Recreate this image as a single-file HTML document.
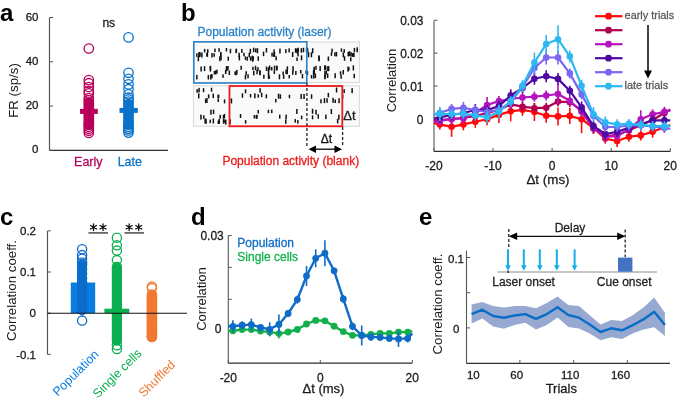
<!DOCTYPE html>
<html><head><meta charset="utf-8"><style>
html,body{margin:0;padding:0;background:#fff;}
body{width:685px;height:402px;overflow:hidden;}
svg{display:block;will-change:transform;font-family:"Liberation Sans",sans-serif;}
</style></head><body>
<svg width="685" height="402" viewBox="0 0 685 402" font-family="Liberation Sans, sans-serif">
<rect width="685" height="402" fill="#fff"/>
<text x="0" y="21" font-size="24" fill="#000"  text-anchor="start" font-weight="bold" >a</text>
<text x="181" y="21" font-size="24" fill="#000"  text-anchor="start" font-weight="bold" >b</text>
<text x="0" y="225" font-size="24" fill="#000"  text-anchor="start" font-weight="bold" >c</text>
<text x="191" y="225" font-size="24" fill="#000"  text-anchor="start" font-weight="bold" >d</text>
<text x="419" y="225" font-size="24" fill="#000"  text-anchor="start" font-weight="bold" >e</text>
<line x1="49.5" y1="17.5" x2="49.5" y2="150.3" stroke="#555555" stroke-width="1.2" />
<line x1="49.5" y1="150.3" x2="168" y2="150.3" stroke="#2e2e2e" stroke-width="1.2" />
<line x1="49.5" y1="150.3" x2="53.0" y2="150.3" stroke="#555555" stroke-width="1" />
<text x="38.5" y="153.3" font-size="11.5" fill="#1a1a1a" stroke="#1a1a1a" stroke-width="0.28" text-anchor="end" font-weight="normal" >0</text>
<line x1="49.5" y1="106.04" x2="53.0" y2="106.04" stroke="#555555" stroke-width="1" />
<text x="38.5" y="109.04" font-size="11.5" fill="#1a1a1a" stroke="#1a1a1a" stroke-width="0.28" text-anchor="end" font-weight="normal" >20</text>
<line x1="49.5" y1="61.78" x2="53.0" y2="61.78" stroke="#555555" stroke-width="1" />
<text x="38.5" y="64.78" font-size="11.5" fill="#1a1a1a" stroke="#1a1a1a" stroke-width="0.28" text-anchor="end" font-weight="normal" >40</text>
<line x1="49.5" y1="17.52000000000001" x2="53.0" y2="17.52000000000001" stroke="#555555" stroke-width="1" />
<text x="38.5" y="20.52000000000001" font-size="11.5" fill="#1a1a1a" stroke="#1a1a1a" stroke-width="0.28" text-anchor="end" font-weight="normal" >60</text>
<text transform="translate(17.8,90.5) rotate(-90)" font-size="13.3" fill="#1a1a1a" text-anchor="middle">FR (sp/s)</text>
<text x="102.4" y="27.3" font-size="12" fill="#1a1a1a" stroke="#1a1a1a" stroke-width="0.28" text-anchor="start" font-weight="normal" >ns</text>
<circle cx="88.8" cy="48.5" r="4.7" fill="none" stroke="#b8005a" stroke-width="1.3"/>
<circle cx="88.8" cy="80.1" r="4.7" fill="none" stroke="#b8005a" stroke-width="1.3"/>
<circle cx="88.8" cy="83.2" r="4.7" fill="none" stroke="#b8005a" stroke-width="1.3"/>
<circle cx="88.8" cy="87.0" r="4.7" fill="none" stroke="#b8005a" stroke-width="1.3"/>
<circle cx="88.8" cy="91.0" r="4.7" fill="none" stroke="#b8005a" stroke-width="1.3"/>
<circle cx="88.8" cy="93.4" r="4.7" fill="none" stroke="#b8005a" stroke-width="1.3"/>
<circle cx="88.8" cy="98.1" r="4.7" fill="none" stroke="#b8005a" stroke-width="1.3"/>
<circle cx="88.8" cy="100.3" r="4.7" fill="none" stroke="#b8005a" stroke-width="1.3"/>
<circle cx="88.8" cy="124.6" r="4.7" fill="none" stroke="#b8005a" stroke-width="1.3"/>
<circle cx="88.8" cy="126.8" r="4.7" fill="none" stroke="#b8005a" stroke-width="1.3"/>
<circle cx="88.8" cy="128.8" r="4.7" fill="none" stroke="#b8005a" stroke-width="1.3"/>
<circle cx="88.8" cy="130.8" r="4.7" fill="none" stroke="#b8005a" stroke-width="1.3"/>
<circle cx="88.8" cy="133.0" r="4.7" fill="none" stroke="#b8005a" stroke-width="1.3"/>
<rect x="83.45" y="97.2" width="10.7" height="32.3" rx="5.3" fill="#b8005a"/>
<circle cx="128.5" cy="37.4" r="4.7" fill="none" stroke="#0a72c8" stroke-width="1.3"/>
<circle cx="128.5" cy="72.8" r="4.7" fill="none" stroke="#0a72c8" stroke-width="1.3"/>
<circle cx="128.5" cy="78.8" r="4.7" fill="none" stroke="#0a72c8" stroke-width="1.3"/>
<circle cx="128.5" cy="84.4" r="4.7" fill="none" stroke="#0a72c8" stroke-width="1.3"/>
<circle cx="128.5" cy="89.2" r="4.7" fill="none" stroke="#0a72c8" stroke-width="1.3"/>
<circle cx="128.5" cy="94.3" r="4.7" fill="none" stroke="#0a72c8" stroke-width="1.3"/>
<circle cx="128.5" cy="97.6" r="4.7" fill="none" stroke="#0a72c8" stroke-width="1.3"/>
<circle cx="128.5" cy="99.6" r="4.7" fill="none" stroke="#0a72c8" stroke-width="1.3"/>
<circle cx="128.5" cy="101.6" r="4.7" fill="none" stroke="#0a72c8" stroke-width="1.3"/>
<circle cx="128.5" cy="124.6" r="4.7" fill="none" stroke="#0a72c8" stroke-width="1.3"/>
<circle cx="128.5" cy="126.8" r="4.7" fill="none" stroke="#0a72c8" stroke-width="1.3"/>
<circle cx="128.5" cy="128.6" r="4.7" fill="none" stroke="#0a72c8" stroke-width="1.3"/>
<circle cx="128.5" cy="130.4" r="4.7" fill="none" stroke="#0a72c8" stroke-width="1.3"/>
<circle cx="128.5" cy="132.6" r="4.7" fill="none" stroke="#0a72c8" stroke-width="1.3"/>
<rect x="123.15" y="98.7" width="10.7" height="30.8" rx="5.3" fill="#0a72c8"/>
<rect x="80" y="108.9" width="17.8" height="5" fill="#b8005a"/>
<rect x="119.5" y="107.9" width="18.3" height="5" fill="#0a72c8"/>
<text x="88.3" y="165.7" font-size="12.5" fill="#b8005a" stroke="#b8005a" stroke-width="0.28" text-anchor="middle" font-weight="normal" >Early</text>
<text x="129.8" y="165.7" font-size="12.5" fill="#0a72c8" stroke="#0a72c8" stroke-width="0.28" text-anchor="middle" font-weight="normal" >Late</text>
<text x="197.5" y="35.8" font-size="12" fill="#2a82c8" stroke="#2a82c8" stroke-width="0.28" text-anchor="start" font-weight="normal" >Population activity (laser)</text>
<rect x="193.5" y="42" width="166" height="40.5" fill="#fafafa" stroke="#dcdcdc" stroke-width="1.2"/>
<rect x="193.5" y="85.8" width="166" height="40.5" fill="#fafafa" stroke="#dcdcdc" stroke-width="1.2"/>
<rect x="296.3" y="57.5" width="1.5" height="3.5" fill="#111"/>
<rect x="331.3" y="48.7" width="1.5" height="4" fill="#111"/>
<rect x="214.2" y="48.6" width="1.5" height="3.5" fill="#111"/>
<rect x="288.4" y="48.4" width="1.5" height="4" fill="#111"/>
<rect x="343.5" y="49.2" width="1.5" height="3.5" fill="#111"/>
<rect x="218.3" y="48.2" width="1.5" height="3.5" fill="#111"/>
<rect x="229.7" y="48.8" width="1.5" height="4.5" fill="#111"/>
<rect x="246.5" y="56.7" width="1.5" height="4" fill="#111"/>
<rect x="347.5" y="51.9" width="1.5" height="4.5" fill="#111"/>
<rect x="262.8" y="51.6" width="1.5" height="4.5" fill="#111"/>
<rect x="327.6" y="56.5" width="1.5" height="4.5" fill="#111"/>
<rect x="206.6" y="52.2" width="1.5" height="4.5" fill="#111"/>
<rect x="225.7" y="48.0" width="1.5" height="3.5" fill="#111"/>
<rect x="348.8" y="51.2" width="1.5" height="5" fill="#111"/>
<rect x="255.0" y="48.4" width="1.5" height="4" fill="#111"/>
<rect x="296.4" y="48.4" width="1.5" height="5" fill="#111"/>
<rect x="251.4" y="55.6" width="1.5" height="5" fill="#111"/>
<rect x="213.4" y="53.3" width="1.5" height="3.5" fill="#111"/>
<rect x="265.7" y="48.0" width="1.5" height="4.5" fill="#111"/>
<rect x="343.8" y="56.3" width="1.5" height="4.5" fill="#111"/>
<rect x="306.4" y="48.5" width="1.5" height="4.5" fill="#111"/>
<rect x="356.5" y="47.3" width="1.5" height="5" fill="#111"/>
<rect x="201.1" y="52.5" width="1.5" height="5" fill="#111"/>
<rect x="300.8" y="55.3" width="1.5" height="5" fill="#111"/>
<rect x="249.8" y="56.6" width="1.5" height="4" fill="#111"/>
<rect x="297.5" y="47.7" width="1.5" height="4.5" fill="#111"/>
<rect x="220.0" y="51.9" width="1.5" height="4" fill="#111"/>
<rect x="353.1" y="52.6" width="1.5" height="4.5" fill="#111"/>
<rect x="273.1" y="53.4" width="1.5" height="3.5" fill="#111"/>
<rect x="256.7" y="48.2" width="1.5" height="5" fill="#111"/>
<rect x="335.7" y="51.9" width="1.5" height="4.5" fill="#111"/>
<rect x="206.2" y="53.1" width="1.5" height="3.5" fill="#111"/>
<rect x="318.3" y="56.3" width="1.5" height="5" fill="#111"/>
<rect x="238.6" y="55.9" width="1.5" height="4.5" fill="#111"/>
<rect x="300.6" y="48.2" width="1.5" height="4.5" fill="#111"/>
<rect x="248.5" y="52.8" width="1.5" height="4.5" fill="#111"/>
<rect x="252.0" y="56.7" width="1.5" height="5" fill="#111"/>
<rect x="252.4" y="56.2" width="1.5" height="4.5" fill="#111"/>
<rect x="350.0" y="57.3" width="1.5" height="4" fill="#111"/>
<rect x="330.7" y="52.4" width="1.5" height="3.5" fill="#111"/>
<rect x="311.9" y="48.2" width="1.5" height="5" fill="#111"/>
<rect x="244.7" y="56.4" width="1.5" height="3.5" fill="#111"/>
<rect x="227.5" y="56.7" width="1.5" height="4" fill="#111"/>
<rect x="318.2" y="55.3" width="1.5" height="5" fill="#111"/>
<rect x="353.7" y="47.9" width="1.5" height="4" fill="#111"/>
<rect x="273.7" y="51.9" width="1.5" height="5" fill="#111"/>
<rect x="302.7" y="47.8" width="1.5" height="4.5" fill="#111"/>
<rect x="196.1" y="53.3" width="1.5" height="3.5" fill="#111"/>
<rect x="306.9" y="48.3" width="1.5" height="4.5" fill="#111"/>
<rect x="211.3" y="53.0" width="1.5" height="4.5" fill="#111"/>
<rect x="350.3" y="52.1" width="1.5" height="4.5" fill="#111"/>
<rect x="271.3" y="52.6" width="1.5" height="4" fill="#111"/>
<rect x="351.8" y="53.3" width="1.5" height="3.5" fill="#111"/>
<rect x="257.5" y="56.3" width="1.5" height="4.5" fill="#111"/>
<rect x="297.3" y="52.4" width="1.5" height="4" fill="#111"/>
<rect x="275.4" y="56.3" width="1.5" height="4" fill="#111"/>
<rect x="291.9" y="52.0" width="1.5" height="5" fill="#111"/>
<rect x="199.2" y="52.2" width="1.5" height="4.5" fill="#111"/>
<rect x="219.1" y="56.2" width="1.5" height="5" fill="#111"/>
<rect x="235.5" y="49.3" width="1.5" height="3.5" fill="#111"/>
<rect x="273.3" y="49.4" width="1.5" height="3.5" fill="#111"/>
<rect x="235.6" y="48.6" width="1.5" height="4.5" fill="#111"/>
<rect x="243.2" y="52.8" width="1.5" height="3.5" fill="#111"/>
<rect x="198.6" y="52.3" width="1.5" height="4.5" fill="#111"/>
<rect x="294.8" y="48.2" width="1.5" height="4.5" fill="#111"/>
<rect x="305.8" y="47.5" width="1.5" height="4.5" fill="#111"/>
<rect x="285.1" y="49.1" width="1.5" height="4" fill="#111"/>
<rect x="198.3" y="52.2" width="1.5" height="5" fill="#111"/>
<rect x="334.2" y="52.3" width="1.5" height="4" fill="#111"/>
<rect x="340.7" y="48.4" width="1.5" height="3.5" fill="#111"/>
<rect x="307.8" y="52.2" width="1.5" height="5" fill="#111"/>
<rect x="342.6" y="52.3" width="1.5" height="5" fill="#111"/>
<rect x="352.6" y="52.9" width="1.5" height="3.5" fill="#111"/>
<rect x="207.0" y="49.2" width="1.5" height="3.5" fill="#111"/>
<rect x="249.6" y="48.8" width="1.5" height="5" fill="#111"/>
<rect x="203.9" y="48.9" width="1.5" height="3.5" fill="#111"/>
<rect x="310.7" y="52.3" width="1.5" height="5" fill="#111"/>
<rect x="220.1" y="53.2" width="1.5" height="3.5" fill="#111"/>
<rect x="296.2" y="49.0" width="1.5" height="3.5" fill="#111"/>
<rect x="241.1" y="48.9" width="1.5" height="4" fill="#111"/>
<rect x="197.6" y="56.2" width="1.5" height="5" fill="#111"/>
<rect x="252.9" y="47.7" width="1.5" height="4.5" fill="#111"/>
<rect x="220.3" y="56.2" width="1.5" height="4" fill="#111"/>
<rect x="238.4" y="52.8" width="1.5" height="4.5" fill="#111"/>
<rect x="279.2" y="48.6" width="1.5" height="5" fill="#111"/>
<rect x="314.6" y="73.5" width="1.5" height="4.5" fill="#111"/>
<rect x="209.7" y="66.6" width="1.5" height="5" fill="#111"/>
<rect x="234.4" y="71.5" width="1.5" height="3.5" fill="#111"/>
<rect x="324.2" y="74.3" width="1.5" height="4" fill="#111"/>
<rect x="348.1" y="67.1" width="1.5" height="3.5" fill="#111"/>
<rect x="352.6" y="65.4" width="1.5" height="5" fill="#111"/>
<rect x="253.0" y="70.9" width="1.5" height="4.5" fill="#111"/>
<rect x="324.2" y="74.8" width="1.5" height="4.5" fill="#111"/>
<rect x="325.5" y="70.5" width="1.5" height="4" fill="#111"/>
<rect x="315.2" y="65.8" width="1.5" height="4" fill="#111"/>
<rect x="228.6" y="70.5" width="1.5" height="4.5" fill="#111"/>
<rect x="196.1" y="74.9" width="1.5" height="4.5" fill="#111"/>
<rect x="271.0" y="67.0" width="1.5" height="3.5" fill="#111"/>
<rect x="256.3" y="69.7" width="1.5" height="4.5" fill="#111"/>
<rect x="213.7" y="71.0" width="1.5" height="3.5" fill="#111"/>
<rect x="273.6" y="70.5" width="1.5" height="3.5" fill="#111"/>
<rect x="306.7" y="71.1" width="1.5" height="4" fill="#111"/>
<rect x="215.0" y="70.4" width="1.5" height="4" fill="#111"/>
<rect x="313.4" y="66.8" width="1.5" height="4" fill="#111"/>
<rect x="301.7" y="74.0" width="1.5" height="4.5" fill="#111"/>
<rect x="225.7" y="66.4" width="1.5" height="5" fill="#111"/>
<rect x="222.3" y="74.3" width="1.5" height="3.5" fill="#111"/>
<rect x="300.0" y="70.0" width="1.5" height="3.5" fill="#111"/>
<rect x="268.9" y="65.5" width="1.5" height="4.5" fill="#111"/>
<rect x="347.3" y="66.6" width="1.5" height="5" fill="#111"/>
<rect x="210.8" y="74.3" width="1.5" height="3.5" fill="#111"/>
<rect x="276.1" y="65.6" width="1.5" height="5" fill="#111"/>
<rect x="267.8" y="67.2" width="1.5" height="4" fill="#111"/>
<rect x="224.9" y="70.0" width="1.5" height="4" fill="#111"/>
<rect x="209.6" y="65.8" width="1.5" height="4" fill="#111"/>
<rect x="292.3" y="66.2" width="1.5" height="5" fill="#111"/>
<rect x="282.9" y="74.9" width="1.5" height="4" fill="#111"/>
<rect x="312.8" y="70.8" width="1.5" height="4" fill="#111"/>
<rect x="285.3" y="69.6" width="1.5" height="4.5" fill="#111"/>
<rect x="327.9" y="66.1" width="1.5" height="5" fill="#111"/>
<rect x="235.4" y="71.2" width="1.5" height="4" fill="#111"/>
<rect x="240.4" y="65.8" width="1.5" height="4" fill="#111"/>
<rect x="324.2" y="65.6" width="1.5" height="4.5" fill="#111"/>
<rect x="257.2" y="67.1" width="1.5" height="4" fill="#111"/>
<rect x="288.5" y="75.0" width="1.5" height="3.5" fill="#111"/>
<rect x="313.2" y="69.4" width="1.5" height="5" fill="#111"/>
<rect x="286.5" y="69.7" width="1.5" height="4.5" fill="#111"/>
<rect x="276.1" y="66.1" width="1.5" height="3.5" fill="#111"/>
<rect x="200.4" y="66.5" width="1.5" height="5" fill="#111"/>
<rect x="334.4" y="73.2" width="1.5" height="5" fill="#111"/>
<rect x="216.2" y="69.7" width="1.5" height="4" fill="#111"/>
<rect x="313.0" y="74.7" width="1.5" height="4" fill="#111"/>
<rect x="267.8" y="69.6" width="1.5" height="4.5" fill="#111"/>
<rect x="267.8" y="73.9" width="1.5" height="5" fill="#111"/>
<rect x="203.8" y="66.1" width="1.5" height="5" fill="#111"/>
<rect x="292.0" y="70.8" width="1.5" height="4" fill="#111"/>
<rect x="353.5" y="73.8" width="1.5" height="4.5" fill="#111"/>
<rect x="259.2" y="70.8" width="1.5" height="4.5" fill="#111"/>
<rect x="286.6" y="66.3" width="1.5" height="4" fill="#111"/>
<rect x="327.1" y="66.2" width="1.5" height="5" fill="#111"/>
<rect x="252.2" y="66.7" width="1.5" height="3.5" fill="#111"/>
<rect x="211.1" y="74.2" width="1.5" height="4" fill="#111"/>
<rect x="324.2" y="71.0" width="1.5" height="3.5" fill="#111"/>
<rect x="324.9" y="65.9" width="1.5" height="4" fill="#111"/>
<rect x="326.9" y="73.5" width="1.5" height="4.5" fill="#111"/>
<rect x="278.7" y="74.3" width="1.5" height="5" fill="#111"/>
<rect x="268.4" y="75.4" width="1.5" height="3.5" fill="#111"/>
<rect x="282.4" y="71.5" width="1.5" height="3.5" fill="#111"/>
<rect x="305.4" y="70.4" width="1.5" height="3.5" fill="#111"/>
<rect x="210.1" y="74.6" width="1.5" height="5" fill="#111"/>
<rect x="245.4" y="71.2" width="1.5" height="4" fill="#111"/>
<rect x="207.6" y="75.0" width="1.5" height="4.5" fill="#111"/>
<rect x="340.4" y="74.7" width="1.5" height="4" fill="#111"/>
<rect x="273.8" y="65.6" width="1.5" height="5" fill="#111"/>
<rect x="259.3" y="70.3" width="1.5" height="4" fill="#111"/>
<rect x="342.5" y="70.0" width="1.5" height="4.5" fill="#111"/>
<rect x="236.1" y="69.9" width="1.5" height="4.5" fill="#111"/>
<rect x="324.3" y="65.3" width="1.5" height="5" fill="#111"/>
<rect x="319.4" y="66.1" width="1.5" height="5" fill="#111"/>
<rect x="263.1" y="74.7" width="1.5" height="4" fill="#111"/>
<rect x="244.7" y="74.9" width="1.5" height="4.5" fill="#111"/>
<rect x="226.1" y="66.2" width="1.5" height="4" fill="#111"/>
<rect x="265.8" y="66.5" width="1.5" height="4.5" fill="#111"/>
<rect x="313.4" y="70.2" width="1.5" height="3.5" fill="#111"/>
<rect x="247.3" y="74.3" width="1.5" height="4" fill="#111"/>
<rect x="339.8" y="71.3" width="1.5" height="3.5" fill="#111"/>
<rect x="227.2" y="66.0" width="1.5" height="4.5" fill="#111"/>
<rect x="295.1" y="70.9" width="1.5" height="4" fill="#111"/>
<rect x="310.8" y="75.0" width="1.5" height="3.5" fill="#111"/>
<rect x="254.8" y="65.8" width="1.5" height="4.5" fill="#111"/>
<rect x="223.8" y="99.4" width="1.5" height="4" fill="#111"/>
<rect x="260.9" y="92.7" width="1.5" height="4.5" fill="#111"/>
<rect x="217.4" y="94.7" width="1.5" height="3.5" fill="#111"/>
<rect x="275.0" y="98.9" width="1.5" height="3.5" fill="#111"/>
<rect x="326.3" y="98.3" width="1.5" height="4.5" fill="#111"/>
<rect x="257.5" y="94.2" width="1.5" height="3.5" fill="#111"/>
<rect x="288.7" y="94.7" width="1.5" height="3.5" fill="#111"/>
<rect x="279.6" y="94.3" width="1.5" height="4.5" fill="#111"/>
<rect x="303.3" y="94.0" width="1.5" height="5" fill="#111"/>
<rect x="265.6" y="94.3" width="1.5" height="4" fill="#111"/>
<rect x="210.8" y="87.7" width="1.5" height="4" fill="#111"/>
<rect x="254.1" y="93.3" width="1.5" height="5" fill="#111"/>
<rect x="335.8" y="87.5" width="1.5" height="5" fill="#111"/>
<rect x="198.0" y="93.4" width="1.5" height="5" fill="#111"/>
<rect x="277.8" y="93.7" width="1.5" height="5" fill="#111"/>
<rect x="334.5" y="99.5" width="1.5" height="3.5" fill="#111"/>
<rect x="230.7" y="98.4" width="1.5" height="5" fill="#111"/>
<rect x="343.4" y="89.1" width="1.5" height="4" fill="#111"/>
<rect x="244.8" y="89.3" width="1.5" height="4" fill="#111"/>
<rect x="259.4" y="88.2" width="1.5" height="4.5" fill="#111"/>
<rect x="196.4" y="89.2" width="1.5" height="3.5" fill="#111"/>
<rect x="207.9" y="94.4" width="1.5" height="4" fill="#111"/>
<rect x="300.4" y="94.0" width="1.5" height="5" fill="#111"/>
<rect x="217.9" y="94.7" width="1.5" height="3.5" fill="#111"/>
<rect x="198.3" y="87.9" width="1.5" height="4.5" fill="#111"/>
<rect x="249.8" y="94.0" width="1.5" height="3.5" fill="#111"/>
<rect x="241.7" y="93.3" width="1.5" height="4.5" fill="#111"/>
<rect x="341.9" y="94.5" width="1.5" height="4" fill="#111"/>
<rect x="351.4" y="88.1" width="1.5" height="5" fill="#111"/>
<rect x="217.5" y="98.5" width="1.5" height="3.5" fill="#111"/>
<rect x="320.2" y="99.3" width="1.5" height="4" fill="#111"/>
<rect x="323.7" y="98.1" width="1.5" height="5" fill="#111"/>
<rect x="338.3" y="98.2" width="1.5" height="5" fill="#111"/>
<rect x="212.5" y="93.6" width="1.5" height="4.5" fill="#111"/>
<rect x="310.8" y="94.3" width="1.5" height="4.5" fill="#111"/>
<rect x="332.3" y="97.8" width="1.5" height="5" fill="#111"/>
<rect x="204.9" y="98.6" width="1.5" height="4.5" fill="#111"/>
<rect x="327.6" y="92.9" width="1.5" height="4.5" fill="#111"/>
<rect x="206.2" y="98.0" width="1.5" height="5" fill="#111"/>
<rect x="202.8" y="88.2" width="1.5" height="4" fill="#111"/>
<rect x="256.2" y="114.7" width="1.5" height="4" fill="#111"/>
<rect x="315.3" y="109.7" width="1.5" height="5" fill="#111"/>
<rect x="222.8" y="118.6" width="1.5" height="5" fill="#111"/>
<rect x="204.4" y="118.4" width="1.5" height="5" fill="#111"/>
<rect x="203.0" y="115.3" width="1.5" height="3.5" fill="#111"/>
<rect x="200.2" y="114.6" width="1.5" height="5" fill="#111"/>
<rect x="294.5" y="119.1" width="1.5" height="3.5" fill="#111"/>
<rect x="311.8" y="108.8" width="1.5" height="5" fill="#111"/>
<rect x="244.9" y="120.1" width="1.5" height="3.5" fill="#111"/>
<rect x="317.5" y="114.2" width="1.5" height="4.5" fill="#111"/>
<rect x="279.0" y="114.6" width="1.5" height="4" fill="#111"/>
<rect x="210.2" y="109.7" width="1.5" height="5" fill="#111"/>
<rect x="296.1" y="109.0" width="1.5" height="5" fill="#111"/>
<rect x="223.3" y="119.5" width="1.5" height="3.5" fill="#111"/>
<rect x="219.4" y="114.8" width="1.5" height="4" fill="#111"/>
<rect x="285.4" y="114.6" width="1.5" height="4.5" fill="#111"/>
<rect x="330.6" y="109.0" width="1.5" height="5" fill="#111"/>
<rect x="253.6" y="115.0" width="1.5" height="3.5" fill="#111"/>
<rect x="212.6" y="118.5" width="1.5" height="5" fill="#111"/>
<rect x="223.7" y="113.9" width="1.5" height="4.5" fill="#111"/>
<rect x="338.1" y="114.6" width="1.5" height="5" fill="#111"/>
<rect x="225.0" y="119.6" width="1.5" height="5" fill="#111"/>
<rect x="212.8" y="109.6" width="1.5" height="4.5" fill="#111"/>
<rect x="300.9" y="115.7" width="1.5" height="3.5" fill="#111"/>
<rect x="271.0" y="109.6" width="1.5" height="3.5" fill="#111"/>
<rect x="209.5" y="119.6" width="1.5" height="3.5" fill="#111"/>
<rect x="239.8" y="114.0" width="1.5" height="4" fill="#111"/>
<rect x="257.5" y="110.0" width="1.5" height="3.5" fill="#111"/>
<rect x="218.5" y="118.9" width="1.5" height="5" fill="#111"/>
<rect x="285.0" y="119.3" width="1.5" height="4.5" fill="#111"/>
<rect x="222.7" y="115.0" width="1.5" height="3.5" fill="#111"/>
<rect x="217.6" y="120.5" width="1.5" height="3.5" fill="#111"/>
<rect x="267.7" y="109.7" width="1.5" height="3.5" fill="#111"/>
<rect x="311.8" y="115.3" width="1.5" height="4" fill="#111"/>
<rect x="325.1" y="114.6" width="1.5" height="4.5" fill="#111"/>
<rect x="297.1" y="120.1" width="1.5" height="3.5" fill="#111"/>
<rect x="229.3" y="119.1" width="1.5" height="5" fill="#111"/>
<rect x="336.9" y="118.9" width="1.5" height="4.5" fill="#111"/>
<rect x="205.3" y="118.9" width="1.5" height="5" fill="#111"/>
<rect x="255.6" y="115.2" width="1.5" height="3.5" fill="#111"/>
<rect x="193.8" y="41.8" width="113" height="41.2" fill="none" stroke="#2a82c8" stroke-width="1.6"/>
<rect x="229.5" y="86" width="112.8" height="40.3" fill="none" stroke="#f01818" stroke-width="1.8"/>
<line x1="306.9" y1="83" x2="306.9" y2="147" stroke="#222" stroke-width="1.3" stroke-dasharray="3,2"/>
<line x1="342.6" y1="127" x2="342.6" y2="147" stroke="#222" stroke-width="1.3" stroke-dasharray="3,2"/>
<text x="343.3" y="119.8" font-size="13" fill="#222" stroke="#222" stroke-width="0.28" text-anchor="start" font-weight="normal" >Δt</text>
<text x="326.5" y="143.2" font-size="12" fill="#111" stroke="#111" stroke-width="0.28" text-anchor="middle" font-weight="normal" >Δt</text>
<line x1="314" y1="149.2" x2="336" y2="149.2" stroke="#000" stroke-width="1.3" />
<path d="M308.5,149.2 L316,145.5 L316,153 Z" fill="#000"/>
<path d="M342,149.2 L334.5,145.5 L334.5,153 Z" fill="#000"/>
<text x="222.4" y="164.8" font-size="12" fill="#f01818" stroke="#f01818" stroke-width="0.28" text-anchor="start" font-weight="normal" >Population activity (blank)</text>
<line x1="434" y1="20.5" x2="434" y2="151.3" stroke="#555555" stroke-width="1.1" />
<line x1="434" y1="151.3" x2="670.4" y2="151.3" stroke="#2e2e2e" stroke-width="1.2" />
<line x1="434" y1="118.9" x2="437.5" y2="118.9" stroke="#555555" stroke-width="1" />
<text x="423.5" y="123.9" font-size="12" fill="#1a1a1a" stroke="#1a1a1a" stroke-width="0.28" text-anchor="end" font-weight="normal" >0</text>
<line x1="434" y1="86.0" x2="437.5" y2="86.0" stroke="#555555" stroke-width="1" />
<text x="423.5" y="91.0" font-size="12" fill="#1a1a1a" stroke="#1a1a1a" stroke-width="0.28" text-anchor="end" font-weight="normal" >0.01</text>
<line x1="434" y1="53.10000000000001" x2="437.5" y2="53.10000000000001" stroke="#555555" stroke-width="1" />
<text x="423.5" y="58.10000000000001" font-size="12" fill="#1a1a1a" stroke="#1a1a1a" stroke-width="0.28" text-anchor="end" font-weight="normal" >0.02</text>
<line x1="434" y1="20.200000000000003" x2="437.5" y2="20.200000000000003" stroke="#555555" stroke-width="1" />
<text x="423.5" y="25.200000000000003" font-size="12" fill="#1a1a1a" stroke="#1a1a1a" stroke-width="0.28" text-anchor="end" font-weight="normal" >0.03</text>
<line x1="433.9" y1="151.3" x2="433.9" y2="148" stroke="#555555" stroke-width="1" />
<text x="433.9" y="169.6" font-size="12" fill="#1a1a1a" stroke="#1a1a1a" stroke-width="0.28" text-anchor="middle" font-weight="normal" >-20</text>
<line x1="493.0" y1="151.3" x2="493.0" y2="148" stroke="#555555" stroke-width="1" />
<text x="493.0" y="169.6" font-size="12" fill="#1a1a1a" stroke="#1a1a1a" stroke-width="0.28" text-anchor="middle" font-weight="normal" >-10</text>
<line x1="552.1" y1="151.3" x2="552.1" y2="148" stroke="#555555" stroke-width="1" />
<text x="552.1" y="169.6" font-size="12" fill="#1a1a1a" stroke="#1a1a1a" stroke-width="0.28" text-anchor="middle" font-weight="normal" >0</text>
<line x1="611.2" y1="151.3" x2="611.2" y2="148" stroke="#555555" stroke-width="1" />
<text x="611.2" y="169.6" font-size="12" fill="#1a1a1a" stroke="#1a1a1a" stroke-width="0.28" text-anchor="middle" font-weight="normal" >10</text>
<line x1="670.3" y1="151.3" x2="670.3" y2="148" stroke="#555555" stroke-width="1" />
<text x="670.3" y="169.6" font-size="12" fill="#1a1a1a" stroke="#1a1a1a" stroke-width="0.28" text-anchor="middle" font-weight="normal" >20</text>
<text x="548" y="183.6" font-size="13.4" fill="#1a1a1a" stroke="#1a1a1a" stroke-width="0.28" text-anchor="middle" font-weight="normal" >Δt (ms)</text>
<text transform="translate(396.2,80.5) rotate(-90)" font-size="13" fill="#1a1a1a" text-anchor="middle">Correlation</text>
<line x1="439.8" y1="119.4" x2="439.8" y2="129.4" stroke="#ff0a0a" stroke-width="1.6" />
<line x1="451.6" y1="116.8" x2="451.6" y2="136.8" stroke="#ff0a0a" stroke-width="1.6" />
<line x1="463.4" y1="118.4" x2="463.4" y2="130.4" stroke="#ff0a0a" stroke-width="1.6" />
<line x1="475.3" y1="115.8" x2="475.3" y2="127.8" stroke="#ff0a0a" stroke-width="1.6" />
<line x1="487.1" y1="113.2" x2="487.1" y2="125.2" stroke="#ff0a0a" stroke-width="1.6" />
<line x1="498.9" y1="106.9" x2="498.9" y2="122.9" stroke="#ff0a0a" stroke-width="1.6" />
<line x1="510.7" y1="101.3" x2="510.7" y2="121.3" stroke="#ff0a0a" stroke-width="1.6" />
<line x1="522.5" y1="103.8" x2="522.5" y2="115.8" stroke="#ff0a0a" stroke-width="1.6" />
<line x1="534.4" y1="103.0" x2="534.4" y2="121.0" stroke="#ff0a0a" stroke-width="1.6" />
<line x1="546.2" y1="108.7" x2="546.2" y2="122.7" stroke="#ff0a0a" stroke-width="1.6" />
<line x1="558.0" y1="107.4" x2="558.0" y2="125.4" stroke="#ff0a0a" stroke-width="1.6" />
<line x1="569.8" y1="107.9" x2="569.8" y2="123.9" stroke="#ff0a0a" stroke-width="1.6" />
<line x1="581.6" y1="105.2" x2="581.6" y2="133.2" stroke="#ff0a0a" stroke-width="1.6" />
<line x1="593.5" y1="122.0" x2="593.5" y2="134.0" stroke="#ff0a0a" stroke-width="1.6" />
<line x1="605.3" y1="133.6" x2="605.3" y2="143.6" stroke="#ff0a0a" stroke-width="1.6" />
<line x1="617.1" y1="135.0" x2="617.1" y2="147.0" stroke="#ff0a0a" stroke-width="1.6" />
<line x1="628.9" y1="131.7" x2="628.9" y2="141.7" stroke="#ff0a0a" stroke-width="1.6" />
<line x1="640.8" y1="130.4" x2="640.8" y2="140.4" stroke="#ff0a0a" stroke-width="1.6" />
<line x1="652.6" y1="125.7" x2="652.6" y2="137.7" stroke="#ff0a0a" stroke-width="1.6" />
<line x1="664.4" y1="122.3" x2="664.4" y2="132.3" stroke="#ff0a0a" stroke-width="1.6" />
<polyline points="433.9,123.2 439.8,124.4 451.6,126.8 463.4,124.4 475.3,121.8 487.1,119.2 498.9,114.9 510.7,111.3 522.5,109.8 534.4,112.0 546.2,115.7 558.0,116.4 569.8,115.9 581.6,119.2 593.5,128.0 605.3,138.6 617.1,141.0 628.9,136.7 640.8,135.4 652.6,131.7 664.4,127.3 670.3,125.1" fill="none" stroke="#ff0a0a" stroke-width="2.2" stroke-linejoin="round" />
<circle cx="439.8" cy="124.4" r="3.3" fill="#ff0a0a"/>
<circle cx="451.6" cy="126.8" r="3.3" fill="#ff0a0a"/>
<circle cx="463.4" cy="124.4" r="3.3" fill="#ff0a0a"/>
<circle cx="475.3" cy="121.8" r="3.3" fill="#ff0a0a"/>
<circle cx="487.1" cy="119.2" r="3.3" fill="#ff0a0a"/>
<circle cx="498.9" cy="114.9" r="3.3" fill="#ff0a0a"/>
<circle cx="510.7" cy="111.3" r="3.3" fill="#ff0a0a"/>
<circle cx="522.5" cy="109.8" r="3.3" fill="#ff0a0a"/>
<circle cx="534.4" cy="112.0" r="3.3" fill="#ff0a0a"/>
<circle cx="546.2" cy="115.7" r="3.3" fill="#ff0a0a"/>
<circle cx="558.0" cy="116.4" r="3.3" fill="#ff0a0a"/>
<circle cx="569.8" cy="115.9" r="3.3" fill="#ff0a0a"/>
<circle cx="581.6" cy="119.2" r="3.3" fill="#ff0a0a"/>
<circle cx="593.5" cy="128.0" r="3.3" fill="#ff0a0a"/>
<circle cx="605.3" cy="138.6" r="3.3" fill="#ff0a0a"/>
<circle cx="617.1" cy="141.0" r="3.3" fill="#ff0a0a"/>
<circle cx="628.9" cy="136.7" r="3.3" fill="#ff0a0a"/>
<circle cx="640.8" cy="135.4" r="3.3" fill="#ff0a0a"/>
<circle cx="652.6" cy="131.7" r="3.3" fill="#ff0a0a"/>
<circle cx="664.4" cy="127.3" r="3.3" fill="#ff0a0a"/>
<line x1="439.8" y1="116.0" x2="439.8" y2="124.0" stroke="#b0004f" stroke-width="1.6" />
<line x1="451.6" y1="115.0" x2="451.6" y2="123.0" stroke="#b0004f" stroke-width="1.6" />
<line x1="463.4" y1="114.0" x2="463.4" y2="122.0" stroke="#b0004f" stroke-width="1.6" />
<line x1="475.3" y1="112.0" x2="475.3" y2="120.0" stroke="#b0004f" stroke-width="1.6" />
<line x1="487.1" y1="109.0" x2="487.1" y2="117.0" stroke="#b0004f" stroke-width="1.6" />
<line x1="498.9" y1="106.0" x2="498.9" y2="114.0" stroke="#b0004f" stroke-width="1.6" />
<line x1="510.7" y1="98.3" x2="510.7" y2="110.3" stroke="#b0004f" stroke-width="1.6" />
<line x1="522.5" y1="101.7" x2="522.5" y2="111.7" stroke="#b0004f" stroke-width="1.6" />
<line x1="534.4" y1="103.2" x2="534.4" y2="113.2" stroke="#b0004f" stroke-width="1.6" />
<line x1="546.2" y1="102.7" x2="546.2" y2="112.7" stroke="#b0004f" stroke-width="1.6" />
<line x1="558.0" y1="96.6" x2="558.0" y2="106.6" stroke="#b0004f" stroke-width="1.6" />
<line x1="569.8" y1="97.2" x2="569.8" y2="107.2" stroke="#b0004f" stroke-width="1.6" />
<line x1="581.6" y1="105.4" x2="581.6" y2="115.4" stroke="#b0004f" stroke-width="1.6" />
<line x1="593.5" y1="123.6" x2="593.5" y2="133.6" stroke="#b0004f" stroke-width="1.6" />
<line x1="605.3" y1="131.0" x2="605.3" y2="141.0" stroke="#b0004f" stroke-width="1.6" />
<line x1="617.1" y1="130.0" x2="617.1" y2="140.0" stroke="#b0004f" stroke-width="1.6" />
<line x1="628.9" y1="125.4" x2="628.9" y2="135.4" stroke="#b0004f" stroke-width="1.6" />
<line x1="640.8" y1="120.0" x2="640.8" y2="130.0" stroke="#b0004f" stroke-width="1.6" />
<line x1="652.6" y1="115.0" x2="652.6" y2="125.0" stroke="#b0004f" stroke-width="1.6" />
<line x1="664.4" y1="108.0" x2="664.4" y2="118.0" stroke="#b0004f" stroke-width="1.6" />
<polyline points="433.9,120.5 439.8,120.0 451.6,119.0 463.4,118.0 475.3,116.0 487.1,113.0 498.9,110.0 510.7,104.3 522.5,106.7 534.4,108.2 546.2,107.7 558.0,101.6 569.8,102.2 581.6,110.4 593.5,128.6 605.3,136.0 617.1,135.0 628.9,130.4 640.8,125.0 652.6,120.0 664.4,113.0 670.3,109.5" fill="none" stroke="#b0004f" stroke-width="2.2" stroke-linejoin="round" />
<circle cx="439.8" cy="120.0" r="3.3" fill="#b0004f"/>
<circle cx="451.6" cy="119.0" r="3.3" fill="#b0004f"/>
<circle cx="463.4" cy="118.0" r="3.3" fill="#b0004f"/>
<circle cx="475.3" cy="116.0" r="3.3" fill="#b0004f"/>
<circle cx="487.1" cy="113.0" r="3.3" fill="#b0004f"/>
<circle cx="498.9" cy="110.0" r="3.3" fill="#b0004f"/>
<circle cx="510.7" cy="104.3" r="3.3" fill="#b0004f"/>
<circle cx="522.5" cy="106.7" r="3.3" fill="#b0004f"/>
<circle cx="534.4" cy="108.2" r="3.3" fill="#b0004f"/>
<circle cx="546.2" cy="107.7" r="3.3" fill="#b0004f"/>
<circle cx="558.0" cy="101.6" r="3.3" fill="#b0004f"/>
<circle cx="569.8" cy="102.2" r="3.3" fill="#b0004f"/>
<circle cx="581.6" cy="110.4" r="3.3" fill="#b0004f"/>
<circle cx="593.5" cy="128.6" r="3.3" fill="#b0004f"/>
<circle cx="605.3" cy="136.0" r="3.3" fill="#b0004f"/>
<circle cx="617.1" cy="135.0" r="3.3" fill="#b0004f"/>
<circle cx="628.9" cy="130.4" r="3.3" fill="#b0004f"/>
<circle cx="640.8" cy="125.0" r="3.3" fill="#b0004f"/>
<circle cx="652.6" cy="120.0" r="3.3" fill="#b0004f"/>
<circle cx="664.4" cy="113.0" r="3.3" fill="#b0004f"/>
<line x1="439.8" y1="115.9" x2="439.8" y2="125.9" stroke="#b414be" stroke-width="1.6" />
<line x1="451.6" y1="112.9" x2="451.6" y2="124.9" stroke="#b414be" stroke-width="1.6" />
<line x1="463.4" y1="113.4" x2="463.4" y2="123.4" stroke="#b414be" stroke-width="1.6" />
<line x1="475.3" y1="108.0" x2="475.3" y2="118.0" stroke="#b414be" stroke-width="1.6" />
<line x1="487.1" y1="97.0" x2="487.1" y2="113.0" stroke="#b414be" stroke-width="1.6" />
<line x1="498.9" y1="96.1" x2="498.9" y2="106.1" stroke="#b414be" stroke-width="1.6" />
<line x1="510.7" y1="89.0" x2="510.7" y2="109.0" stroke="#b414be" stroke-width="1.6" />
<line x1="522.5" y1="92.5" x2="522.5" y2="102.5" stroke="#b414be" stroke-width="1.6" />
<line x1="534.4" y1="91.7" x2="534.4" y2="101.7" stroke="#b414be" stroke-width="1.6" />
<line x1="546.2" y1="90.5" x2="546.2" y2="100.5" stroke="#b414be" stroke-width="1.6" />
<line x1="558.0" y1="84.0" x2="558.0" y2="104.0" stroke="#b414be" stroke-width="1.6" />
<line x1="569.8" y1="95.8" x2="569.8" y2="105.8" stroke="#b414be" stroke-width="1.6" />
<line x1="581.6" y1="106.8" x2="581.6" y2="116.8" stroke="#b414be" stroke-width="1.6" />
<line x1="593.5" y1="123.0" x2="593.5" y2="133.0" stroke="#b414be" stroke-width="1.6" />
<line x1="605.3" y1="130.7" x2="605.3" y2="142.7" stroke="#b414be" stroke-width="1.6" />
<line x1="617.1" y1="131.1" x2="617.1" y2="141.1" stroke="#b414be" stroke-width="1.6" />
<line x1="628.9" y1="124.0" x2="628.9" y2="134.0" stroke="#b414be" stroke-width="1.6" />
<line x1="640.8" y1="110.3" x2="640.8" y2="128.3" stroke="#b414be" stroke-width="1.6" />
<line x1="652.6" y1="109.3" x2="652.6" y2="119.3" stroke="#b414be" stroke-width="1.6" />
<line x1="664.4" y1="106.8" x2="664.4" y2="116.8" stroke="#b414be" stroke-width="1.6" />
<polyline points="433.9,121.9 439.8,120.9 451.6,118.9 463.4,118.4 475.3,113.0 487.1,105.0 498.9,101.1 510.7,99.0 522.5,97.5 534.4,96.7 546.2,95.5 558.0,94.0 569.8,100.8 581.6,111.8 593.5,128.0 605.3,136.7 617.1,136.1 628.9,129.0 640.8,119.3 652.6,114.3 664.4,111.8 670.3,110.5" fill="none" stroke="#b414be" stroke-width="2.2" stroke-linejoin="round" />
<circle cx="439.8" cy="120.9" r="3.3" fill="#b414be"/>
<circle cx="451.6" cy="118.9" r="3.3" fill="#b414be"/>
<circle cx="463.4" cy="118.4" r="3.3" fill="#b414be"/>
<circle cx="475.3" cy="113.0" r="3.3" fill="#b414be"/>
<circle cx="487.1" cy="105.0" r="3.3" fill="#b414be"/>
<circle cx="498.9" cy="101.1" r="3.3" fill="#b414be"/>
<circle cx="510.7" cy="99.0" r="3.3" fill="#b414be"/>
<circle cx="522.5" cy="97.5" r="3.3" fill="#b414be"/>
<circle cx="534.4" cy="96.7" r="3.3" fill="#b414be"/>
<circle cx="546.2" cy="95.5" r="3.3" fill="#b414be"/>
<circle cx="558.0" cy="94.0" r="3.3" fill="#b414be"/>
<circle cx="569.8" cy="100.8" r="3.3" fill="#b414be"/>
<circle cx="581.6" cy="111.8" r="3.3" fill="#b414be"/>
<circle cx="593.5" cy="128.0" r="3.3" fill="#b414be"/>
<circle cx="605.3" cy="136.7" r="3.3" fill="#b414be"/>
<circle cx="617.1" cy="136.1" r="3.3" fill="#b414be"/>
<circle cx="628.9" cy="129.0" r="3.3" fill="#b414be"/>
<circle cx="640.8" cy="119.3" r="3.3" fill="#b414be"/>
<circle cx="652.6" cy="114.3" r="3.3" fill="#b414be"/>
<circle cx="664.4" cy="111.8" r="3.3" fill="#b414be"/>
<line x1="439.8" y1="112.4" x2="439.8" y2="122.4" stroke="#4e0aa0" stroke-width="1.6" />
<line x1="451.6" y1="110.0" x2="451.6" y2="120.0" stroke="#4e0aa0" stroke-width="1.6" />
<line x1="463.4" y1="108.0" x2="463.4" y2="118.0" stroke="#4e0aa0" stroke-width="1.6" />
<line x1="475.3" y1="104.0" x2="475.3" y2="116.0" stroke="#4e0aa0" stroke-width="1.6" />
<line x1="487.1" y1="105.1" x2="487.1" y2="115.1" stroke="#4e0aa0" stroke-width="1.6" />
<line x1="498.9" y1="101.1" x2="498.9" y2="111.1" stroke="#4e0aa0" stroke-width="1.6" />
<line x1="510.7" y1="90.5" x2="510.7" y2="100.5" stroke="#4e0aa0" stroke-width="1.6" />
<line x1="522.5" y1="83.0" x2="522.5" y2="93.0" stroke="#4e0aa0" stroke-width="1.6" />
<line x1="534.4" y1="72.8" x2="534.4" y2="84.8" stroke="#4e0aa0" stroke-width="1.6" />
<line x1="546.2" y1="70.2" x2="546.2" y2="82.2" stroke="#4e0aa0" stroke-width="1.6" />
<line x1="558.0" y1="72.9" x2="558.0" y2="84.9" stroke="#4e0aa0" stroke-width="1.6" />
<line x1="569.8" y1="85.7" x2="569.8" y2="95.7" stroke="#4e0aa0" stroke-width="1.6" />
<line x1="581.6" y1="101.4" x2="581.6" y2="113.4" stroke="#4e0aa0" stroke-width="1.6" />
<line x1="593.5" y1="121.1" x2="593.5" y2="131.1" stroke="#4e0aa0" stroke-width="1.6" />
<line x1="605.3" y1="128.0" x2="605.3" y2="140.0" stroke="#4e0aa0" stroke-width="1.6" />
<line x1="617.1" y1="126.9" x2="617.1" y2="136.9" stroke="#4e0aa0" stroke-width="1.6" />
<line x1="628.9" y1="122.8" x2="628.9" y2="132.8" stroke="#4e0aa0" stroke-width="1.6" />
<line x1="640.8" y1="119.4" x2="640.8" y2="129.4" stroke="#4e0aa0" stroke-width="1.6" />
<line x1="652.6" y1="115.3" x2="652.6" y2="125.3" stroke="#4e0aa0" stroke-width="1.6" />
<line x1="664.4" y1="115.3" x2="664.4" y2="125.3" stroke="#4e0aa0" stroke-width="1.6" />
<polyline points="433.9,118.6 439.8,117.4 451.6,115.0 463.4,113.0 475.3,110.0 487.1,110.1 498.9,106.1 510.7,95.5 522.5,88.0 534.4,78.8 546.2,76.2 558.0,78.9 569.8,90.7 581.6,107.4 593.5,126.1 605.3,134.0 617.1,131.9 628.9,127.8 640.8,124.4 652.6,120.3 664.4,120.3 670.3,120.3" fill="none" stroke="#4e0aa0" stroke-width="2.2" stroke-linejoin="round" />
<circle cx="439.8" cy="117.4" r="3.3" fill="#4e0aa0"/>
<circle cx="451.6" cy="115.0" r="3.3" fill="#4e0aa0"/>
<circle cx="463.4" cy="113.0" r="3.3" fill="#4e0aa0"/>
<circle cx="475.3" cy="110.0" r="3.3" fill="#4e0aa0"/>
<circle cx="487.1" cy="110.1" r="3.3" fill="#4e0aa0"/>
<circle cx="498.9" cy="106.1" r="3.3" fill="#4e0aa0"/>
<circle cx="510.7" cy="95.5" r="3.3" fill="#4e0aa0"/>
<circle cx="522.5" cy="88.0" r="3.3" fill="#4e0aa0"/>
<circle cx="534.4" cy="78.8" r="3.3" fill="#4e0aa0"/>
<circle cx="546.2" cy="76.2" r="3.3" fill="#4e0aa0"/>
<circle cx="558.0" cy="78.9" r="3.3" fill="#4e0aa0"/>
<circle cx="569.8" cy="90.7" r="3.3" fill="#4e0aa0"/>
<circle cx="581.6" cy="107.4" r="3.3" fill="#4e0aa0"/>
<circle cx="593.5" cy="126.1" r="3.3" fill="#4e0aa0"/>
<circle cx="605.3" cy="134.0" r="3.3" fill="#4e0aa0"/>
<circle cx="617.1" cy="131.9" r="3.3" fill="#4e0aa0"/>
<circle cx="628.9" cy="127.8" r="3.3" fill="#4e0aa0"/>
<circle cx="640.8" cy="124.4" r="3.3" fill="#4e0aa0"/>
<circle cx="652.6" cy="120.3" r="3.3" fill="#4e0aa0"/>
<circle cx="664.4" cy="120.3" r="3.3" fill="#4e0aa0"/>
<line x1="439.8" y1="108.0" x2="439.8" y2="118.0" stroke="#7a66f2" stroke-width="1.6" />
<line x1="451.6" y1="103.9" x2="451.6" y2="113.9" stroke="#7a66f2" stroke-width="1.6" />
<line x1="463.4" y1="101.9" x2="463.4" y2="113.9" stroke="#7a66f2" stroke-width="1.6" />
<line x1="475.3" y1="105.0" x2="475.3" y2="115.0" stroke="#7a66f2" stroke-width="1.6" />
<line x1="487.1" y1="107.0" x2="487.1" y2="117.0" stroke="#7a66f2" stroke-width="1.6" />
<line x1="498.9" y1="105.0" x2="498.9" y2="115.0" stroke="#7a66f2" stroke-width="1.6" />
<line x1="510.7" y1="97.0" x2="510.7" y2="107.0" stroke="#7a66f2" stroke-width="1.6" />
<line x1="522.5" y1="82.0" x2="522.5" y2="92.0" stroke="#7a66f2" stroke-width="1.6" />
<line x1="534.4" y1="61.0" x2="534.4" y2="75.0" stroke="#7a66f2" stroke-width="1.6" />
<line x1="546.2" y1="50.5" x2="546.2" y2="64.5" stroke="#7a66f2" stroke-width="1.6" />
<line x1="558.0" y1="50.5" x2="558.0" y2="64.5" stroke="#7a66f2" stroke-width="1.6" />
<line x1="569.8" y1="68.4" x2="569.8" y2="78.4" stroke="#7a66f2" stroke-width="1.6" />
<line x1="581.6" y1="89.4" x2="581.6" y2="99.4" stroke="#7a66f2" stroke-width="1.6" />
<line x1="593.5" y1="111.0" x2="593.5" y2="121.0" stroke="#7a66f2" stroke-width="1.6" />
<line x1="605.3" y1="122.0" x2="605.3" y2="132.0" stroke="#7a66f2" stroke-width="1.6" />
<line x1="617.1" y1="122.0" x2="617.1" y2="132.0" stroke="#7a66f2" stroke-width="1.6" />
<line x1="628.9" y1="120.5" x2="628.9" y2="130.5" stroke="#7a66f2" stroke-width="1.6" />
<line x1="640.8" y1="120.5" x2="640.8" y2="130.5" stroke="#7a66f2" stroke-width="1.6" />
<line x1="652.6" y1="121.5" x2="652.6" y2="131.5" stroke="#7a66f2" stroke-width="1.6" />
<line x1="664.4" y1="123.0" x2="664.4" y2="133.0" stroke="#7a66f2" stroke-width="1.6" />
<polyline points="433.9,115.0 439.8,113.0 451.6,108.9 463.4,107.9 475.3,110.0 487.1,112.0 498.9,110.0 510.7,102.0 522.5,87.0 534.4,68.0 546.2,57.5 558.0,57.5 569.8,73.4 581.6,94.4 593.5,116.0 605.3,127.0 617.1,127.0 628.9,125.5 640.8,125.5 652.6,126.5 664.4,128.0 670.3,128.8" fill="none" stroke="#7a66f2" stroke-width="2.2" stroke-linejoin="round" />
<circle cx="439.8" cy="113.0" r="3.3" fill="#7a66f2"/>
<circle cx="451.6" cy="108.9" r="3.3" fill="#7a66f2"/>
<circle cx="463.4" cy="107.9" r="3.3" fill="#7a66f2"/>
<circle cx="475.3" cy="110.0" r="3.3" fill="#7a66f2"/>
<circle cx="487.1" cy="112.0" r="3.3" fill="#7a66f2"/>
<circle cx="498.9" cy="110.0" r="3.3" fill="#7a66f2"/>
<circle cx="510.7" cy="102.0" r="3.3" fill="#7a66f2"/>
<circle cx="522.5" cy="87.0" r="3.3" fill="#7a66f2"/>
<circle cx="534.4" cy="68.0" r="3.3" fill="#7a66f2"/>
<circle cx="546.2" cy="57.5" r="3.3" fill="#7a66f2"/>
<circle cx="558.0" cy="57.5" r="3.3" fill="#7a66f2"/>
<circle cx="569.8" cy="73.4" r="3.3" fill="#7a66f2"/>
<circle cx="581.6" cy="94.4" r="3.3" fill="#7a66f2"/>
<circle cx="593.5" cy="116.0" r="3.3" fill="#7a66f2"/>
<circle cx="605.3" cy="127.0" r="3.3" fill="#7a66f2"/>
<circle cx="617.1" cy="127.0" r="3.3" fill="#7a66f2"/>
<circle cx="628.9" cy="125.5" r="3.3" fill="#7a66f2"/>
<circle cx="640.8" cy="125.5" r="3.3" fill="#7a66f2"/>
<circle cx="652.6" cy="126.5" r="3.3" fill="#7a66f2"/>
<circle cx="664.4" cy="128.0" r="3.3" fill="#7a66f2"/>
<line x1="439.8" y1="106.9" x2="439.8" y2="120.9" stroke="#2cb8f2" stroke-width="1.6" />
<line x1="451.6" y1="109.0" x2="451.6" y2="119.0" stroke="#2cb8f2" stroke-width="1.6" />
<line x1="463.4" y1="108.8" x2="463.4" y2="118.8" stroke="#2cb8f2" stroke-width="1.6" />
<line x1="475.3" y1="110.5" x2="475.3" y2="120.5" stroke="#2cb8f2" stroke-width="1.6" />
<line x1="487.1" y1="111.2" x2="487.1" y2="123.2" stroke="#2cb8f2" stroke-width="1.6" />
<line x1="498.9" y1="104.7" x2="498.9" y2="118.7" stroke="#2cb8f2" stroke-width="1.6" />
<line x1="510.7" y1="96.1" x2="510.7" y2="106.1" stroke="#2cb8f2" stroke-width="1.6" />
<line x1="522.5" y1="79.8" x2="522.5" y2="91.8" stroke="#2cb8f2" stroke-width="1.6" />
<line x1="534.4" y1="52.5" x2="534.4" y2="72.5" stroke="#2cb8f2" stroke-width="1.6" />
<line x1="546.2" y1="35.1" x2="546.2" y2="53.1" stroke="#2cb8f2" stroke-width="1.6" />
<line x1="558.0" y1="25.2" x2="558.0" y2="53.2" stroke="#2cb8f2" stroke-width="1.6" />
<line x1="569.8" y1="50.4" x2="569.8" y2="62.4" stroke="#2cb8f2" stroke-width="1.6" />
<line x1="581.6" y1="79.8" x2="581.6" y2="91.8" stroke="#2cb8f2" stroke-width="1.6" />
<line x1="593.5" y1="107.3" x2="593.5" y2="121.3" stroke="#2cb8f2" stroke-width="1.6" />
<line x1="605.3" y1="116.4" x2="605.3" y2="128.4" stroke="#2cb8f2" stroke-width="1.6" />
<line x1="617.1" y1="119.3" x2="617.1" y2="129.3" stroke="#2cb8f2" stroke-width="1.6" />
<line x1="628.9" y1="118.9" x2="628.9" y2="128.9" stroke="#2cb8f2" stroke-width="1.6" />
<line x1="640.8" y1="119.6" x2="640.8" y2="129.6" stroke="#2cb8f2" stroke-width="1.6" />
<line x1="652.6" y1="121.1" x2="652.6" y2="131.1" stroke="#2cb8f2" stroke-width="1.6" />
<line x1="664.4" y1="121.1" x2="664.4" y2="131.1" stroke="#2cb8f2" stroke-width="1.6" />
<polyline points="433.9,113.9 439.8,113.9 451.6,114.0 463.4,113.8 475.3,115.5 487.1,117.2 498.9,111.7 510.7,101.1 522.5,85.8 534.4,62.5 546.2,44.1 558.0,39.2 569.8,56.4 581.6,85.8 593.5,114.3 605.3,122.4 617.1,124.3 628.9,123.9 640.8,124.6 652.6,126.1 664.4,126.1 670.3,126.1" fill="none" stroke="#2cb8f2" stroke-width="2.2" stroke-linejoin="round" />
<circle cx="439.8" cy="113.9" r="3.3" fill="#2cb8f2"/>
<circle cx="451.6" cy="114.0" r="3.3" fill="#2cb8f2"/>
<circle cx="463.4" cy="113.8" r="3.3" fill="#2cb8f2"/>
<circle cx="475.3" cy="115.5" r="3.3" fill="#2cb8f2"/>
<circle cx="487.1" cy="117.2" r="3.3" fill="#2cb8f2"/>
<circle cx="498.9" cy="111.7" r="3.3" fill="#2cb8f2"/>
<circle cx="510.7" cy="101.1" r="3.3" fill="#2cb8f2"/>
<circle cx="522.5" cy="85.8" r="3.3" fill="#2cb8f2"/>
<circle cx="534.4" cy="62.5" r="3.3" fill="#2cb8f2"/>
<circle cx="546.2" cy="44.1" r="3.3" fill="#2cb8f2"/>
<circle cx="558.0" cy="39.2" r="3.3" fill="#2cb8f2"/>
<circle cx="569.8" cy="56.4" r="3.3" fill="#2cb8f2"/>
<circle cx="581.6" cy="85.8" r="3.3" fill="#2cb8f2"/>
<circle cx="593.5" cy="114.3" r="3.3" fill="#2cb8f2"/>
<circle cx="605.3" cy="122.4" r="3.3" fill="#2cb8f2"/>
<circle cx="617.1" cy="124.3" r="3.3" fill="#2cb8f2"/>
<circle cx="628.9" cy="123.9" r="3.3" fill="#2cb8f2"/>
<circle cx="640.8" cy="124.6" r="3.3" fill="#2cb8f2"/>
<circle cx="652.6" cy="126.1" r="3.3" fill="#2cb8f2"/>
<circle cx="664.4" cy="126.1" r="3.3" fill="#2cb8f2"/>
<line x1="595" y1="16.2" x2="622.5" y2="16.2" stroke="#ff0a0a" stroke-width="2.2" />
<circle cx="608.5" cy="16.2" r="3.4" fill="#ff0a0a"/>
<line x1="595" y1="30.2" x2="622.5" y2="30.2" stroke="#b0004f" stroke-width="2.2" />
<circle cx="608.5" cy="30.2" r="3.4" fill="#b0004f"/>
<line x1="595" y1="44.2" x2="622.5" y2="44.2" stroke="#b414be" stroke-width="2.2" />
<circle cx="608.5" cy="44.2" r="3.4" fill="#b414be"/>
<line x1="595" y1="58.2" x2="622.5" y2="58.2" stroke="#4e0aa0" stroke-width="2.2" />
<circle cx="608.5" cy="58.2" r="3.4" fill="#4e0aa0"/>
<line x1="595" y1="72.2" x2="622.5" y2="72.2" stroke="#7a66f2" stroke-width="2.2" />
<circle cx="608.5" cy="72.2" r="3.4" fill="#7a66f2"/>
<line x1="595" y1="86.2" x2="622.5" y2="86.2" stroke="#2cb8f2" stroke-width="2.2" />
<circle cx="608.5" cy="86.2" r="3.4" fill="#2cb8f2"/>
<text x="624.6" y="19.4" font-size="10.9" fill="#5a5a5a" stroke="#5a5a5a" stroke-width="0.28" text-anchor="start" font-weight="normal" >early trials</text>
<text x="624.6" y="89.4" font-size="10.9" fill="#5a5a5a" stroke="#5a5a5a" stroke-width="0.28" text-anchor="start" font-weight="normal" >late trials</text>
<line x1="648" y1="25" x2="648" y2="72" stroke="#000" stroke-width="1.5" />
<path d="M644,70.6 L652,70.6 L648,78.5 Z" fill="#000"/>
<line x1="47.5" y1="231" x2="47.5" y2="354.5" stroke="#555555" stroke-width="1.2" />
<line x1="47.5" y1="230.79999999999998" x2="50.8" y2="230.79999999999998" stroke="#555555" stroke-width="1" />
<text x="36" y="234.99999999999997" font-size="11.5" fill="#1a1a1a" stroke="#1a1a1a" stroke-width="0.28" text-anchor="end" font-weight="normal" >0.2</text>
<line x1="47.5" y1="272.0" x2="50.8" y2="272.0" stroke="#555555" stroke-width="1" />
<text x="36" y="276.2" font-size="11.5" fill="#1a1a1a" stroke="#1a1a1a" stroke-width="0.28" text-anchor="end" font-weight="normal" >0.1</text>
<line x1="47.5" y1="313.2" x2="50.8" y2="313.2" stroke="#555555" stroke-width="1" />
<text x="36" y="317.4" font-size="11.5" fill="#1a1a1a" stroke="#1a1a1a" stroke-width="0.28" text-anchor="end" font-weight="normal" >0</text>
<line x1="47.5" y1="354.4" x2="50.8" y2="354.4" stroke="#555555" stroke-width="1" />
<text x="36" y="358.59999999999997" font-size="11.5" fill="#1a1a1a" stroke="#1a1a1a" stroke-width="0.28" text-anchor="end" font-weight="normal" >-0.1</text>
<text transform="translate(15.8,290.5) rotate(-90)" font-size="13.3" fill="#1a1a1a" text-anchor="middle">Correlation coeff.</text>
<rect x="70.8" y="282.5" width="24.4" height="30.7" fill="#0a7de0"/>
<rect x="77.1" y="260.6" width="9.9" height="52.6" fill="#0b6dcc"/>
<circle cx="82.1" cy="249.3" r="4.6" fill="none" stroke="#0b6dcc" stroke-width="1.3"/>
<circle cx="82.1" cy="255.1" r="4.6" fill="none" stroke="#0b6dcc" stroke-width="1.3"/>
<circle cx="82.1" cy="258.8" r="4.6" fill="none" stroke="#0b6dcc" stroke-width="1.3"/>
<circle cx="82.1" cy="262.5" r="4.6" fill="none" stroke="#0b6dcc" stroke-width="1.3"/>
<circle cx="82.1" cy="264.6" r="4.6" fill="none" stroke="#0b6dcc" stroke-width="1.3"/>
<circle cx="82.1" cy="269.1" r="4.6" fill="none" stroke="#0b6dcc" stroke-width="1.3"/>
<circle cx="82.1" cy="273.6" r="4.6" fill="none" stroke="#0b6dcc" stroke-width="1.3"/>
<circle cx="82.1" cy="278.2" r="4.6" fill="none" stroke="#0b6dcc" stroke-width="1.3"/>
<circle cx="82.1" cy="282.7" r="4.6" fill="none" stroke="#0b6dcc" stroke-width="1.3"/>
<circle cx="82.1" cy="287.2" r="4.6" fill="none" stroke="#0b6dcc" stroke-width="1.3"/>
<circle cx="82.1" cy="291.8" r="4.6" fill="none" stroke="#0b6dcc" stroke-width="1.3"/>
<circle cx="82.1" cy="296.3" r="4.6" fill="none" stroke="#0b6dcc" stroke-width="1.3"/>
<circle cx="82.1" cy="300.8" r="4.6" fill="none" stroke="#0b6dcc" stroke-width="1.3"/>
<circle cx="82.1" cy="305.4" r="4.6" fill="none" stroke="#0b6dcc" stroke-width="1.3"/>
<circle cx="82.1" cy="309.9" r="4.6" fill="none" stroke="#0b6dcc" stroke-width="1.3"/>
<circle cx="82.1" cy="320.6" r="4.6" fill="none" stroke="#0b6dcc" stroke-width="1.3"/>
<circle cx="116.9" cy="237.8" r="4.6" fill="none" stroke="#0aaf50" stroke-width="1.3"/>
<circle cx="116.9" cy="245.2" r="4.6" fill="none" stroke="#0aaf50" stroke-width="1.3"/>
<circle cx="116.9" cy="250.6" r="4.6" fill="none" stroke="#0aaf50" stroke-width="1.3"/>
<circle cx="116.9" cy="260.1" r="4.6" fill="none" stroke="#0aaf50" stroke-width="1.3"/>
<circle cx="116.9" cy="349.0" r="4.6" fill="none" stroke="#0aaf50" stroke-width="1.3"/>
<circle cx="116.9" cy="345.3" r="4.6" fill="none" stroke="#0aaf50" stroke-width="1.3"/>
<rect x="111.8" y="261.7" width="10.2" height="84.0" rx="5" fill="#0aaf50"/>
<rect x="104.4" y="308.7" width="24.9" height="4.5" fill="#0aaf50"/>
<rect x="146.6" y="289.3" width="10.6" height="52.8" rx="5.3" fill="#f07830"/>
<circle cx="151.9" cy="286.4" r="4.6" fill="none" stroke="#f07830" stroke-width="1.3"/>
<circle cx="151.9" cy="288.1" r="4.6" fill="none" stroke="#f07830" stroke-width="1.3"/>
<circle cx="151.9" cy="337.1" r="4.6" fill="none" stroke="#f07830" stroke-width="1.3"/>
<circle cx="151.9" cy="335.9" r="4.6" fill="none" stroke="#f07830" stroke-width="1.3"/>
<line x1="47.5" y1="313.2" x2="187" y2="313.2" stroke="#111" stroke-width="1.1" />
<path d="M93.50,223.80 L93.50,230.60 M90.56,225.50 L96.44,228.90 M96.44,225.50 L90.56,228.90 " stroke="#111" stroke-width="1.3" stroke-linecap="round" fill="none"/>
<circle cx="93.5" cy="227.2" r="1.3" fill="#111"/>
<path d="M103.00,223.80 L103.00,230.60 M100.06,225.50 L105.94,228.90 M105.94,225.50 L100.06,228.90 " stroke="#111" stroke-width="1.3" stroke-linecap="round" fill="none"/>
<circle cx="103" cy="227.2" r="1.3" fill="#111"/>
<line x1="88.5" y1="232.9" x2="108" y2="232.9" stroke="#555" stroke-width="1.6" />
<path d="M129.20,223.80 L129.20,230.60 M126.26,225.50 L132.14,228.90 M132.14,225.50 L126.26,228.90 " stroke="#111" stroke-width="1.3" stroke-linecap="round" fill="none"/>
<circle cx="129.2" cy="227.2" r="1.3" fill="#111"/>
<path d="M138.70,223.80 L138.70,230.60 M135.76,225.50 L141.64,228.90 M141.64,225.50 L135.76,228.90 " stroke="#111" stroke-width="1.3" stroke-linecap="round" fill="none"/>
<circle cx="138.7" cy="227.2" r="1.3" fill="#111"/>
<line x1="124.6" y1="232.9" x2="144" y2="232.9" stroke="#555" stroke-width="1.6" />
<text transform="translate(99.5,355) rotate(-45)" font-size="12.5" fill="#0a7de0" text-anchor="end">Population</text>
<text transform="translate(142.5,354) rotate(-45)" font-size="12.5" fill="#0aaf50" text-anchor="end">Single cells</text>
<text transform="translate(176,365.5) rotate(-45)" font-size="12.5" fill="#f07830" text-anchor="end">Shuffled</text>
<line x1="228.3" y1="235.2" x2="228.3" y2="363.2" stroke="#555555" stroke-width="1.1" />
<line x1="228.3" y1="363.2" x2="412.2" y2="363.2" stroke="#2e2e2e" stroke-width="1.2" />
<line x1="228.3" y1="331.2" x2="231.8" y2="331.2" stroke="#555555" stroke-width="1" />
<line x1="228.3" y1="299.3" x2="231.8" y2="299.3" stroke="#555555" stroke-width="1" />
<line x1="228.3" y1="267.4" x2="231.8" y2="267.4" stroke="#555555" stroke-width="1" />
<line x1="228.3" y1="235.5" x2="231.8" y2="235.5" stroke="#555555" stroke-width="1" />
<text x="223.8" y="239.9" font-size="12" fill="#1a1a1a" stroke="#1a1a1a" stroke-width="0.28" text-anchor="end" font-weight="normal" >0.03</text>
<text x="221.5" y="332.8" font-size="12" fill="#1a1a1a" stroke="#1a1a1a" stroke-width="0.28" text-anchor="end" font-weight="normal" >0</text>
<line x1="228.3" y1="363.2" x2="228.3" y2="360" stroke="#555555" stroke-width="1" />
<line x1="320.3" y1="363.2" x2="320.3" y2="360" stroke="#555555" stroke-width="1" />
<line x1="412.3" y1="363.2" x2="412.3" y2="360" stroke="#555555" stroke-width="1" />
<text x="228.3" y="381.5" font-size="12" fill="#1a1a1a" stroke="#1a1a1a" stroke-width="0.28" text-anchor="middle" font-weight="normal" >-20</text>
<text x="320.3" y="381.5" font-size="12" fill="#1a1a1a" stroke="#1a1a1a" stroke-width="0.28" text-anchor="middle" font-weight="normal" >0</text>
<text x="412.3" y="381.5" font-size="12" fill="#1a1a1a" stroke="#1a1a1a" stroke-width="0.28" text-anchor="middle" font-weight="normal" >20</text>
<text x="323.5" y="393.2" font-size="13" fill="#1a1a1a" stroke="#1a1a1a" stroke-width="0.28" text-anchor="middle" font-weight="normal" >Δt (ms)</text>
<text transform="translate(206.3,299) rotate(-90)" font-size="13" fill="#1a1a1a" text-anchor="middle">Correlation</text>
<text x="237.3" y="246.6" font-size="12" fill="#0e6cc8" stroke="#0e6cc8" stroke-width="0.28" text-anchor="start" font-weight="normal" >Population</text>
<text x="237.3" y="261" font-size="12" fill="#12b04c" stroke="#12b04c" stroke-width="0.28" text-anchor="start" font-weight="normal" >Single cells</text>
<line x1="232.9" y1="328.8" x2="232.9" y2="332.8" stroke="#12b04c" stroke-width="1.6" />
<line x1="242.1" y1="327.6" x2="242.1" y2="331.6" stroke="#12b04c" stroke-width="1.6" />
<line x1="251.3" y1="327.6" x2="251.3" y2="331.6" stroke="#12b04c" stroke-width="1.6" />
<line x1="260.5" y1="329.1" x2="260.5" y2="333.1" stroke="#12b04c" stroke-width="1.6" />
<line x1="269.7" y1="329.9" x2="269.7" y2="333.9" stroke="#12b04c" stroke-width="1.6" />
<line x1="278.9" y1="328.6" x2="278.9" y2="338.6" stroke="#12b04c" stroke-width="1.6" />
<line x1="288.1" y1="330.0" x2="288.1" y2="334.0" stroke="#12b04c" stroke-width="1.6" />
<line x1="297.3" y1="327.5" x2="297.3" y2="331.5" stroke="#12b04c" stroke-width="1.6" />
<line x1="306.5" y1="322.0" x2="306.5" y2="326.0" stroke="#12b04c" stroke-width="1.6" />
<line x1="315.7" y1="318.4" x2="315.7" y2="322.4" stroke="#12b04c" stroke-width="1.6" />
<line x1="324.9" y1="318.8" x2="324.9" y2="322.8" stroke="#12b04c" stroke-width="1.6" />
<line x1="334.1" y1="324.2" x2="334.1" y2="328.2" stroke="#12b04c" stroke-width="1.6" />
<line x1="343.3" y1="329.6" x2="343.3" y2="333.6" stroke="#12b04c" stroke-width="1.6" />
<line x1="352.5" y1="333.3" x2="352.5" y2="337.3" stroke="#12b04c" stroke-width="1.6" />
<line x1="361.7" y1="333.4" x2="361.7" y2="337.4" stroke="#12b04c" stroke-width="1.6" />
<line x1="370.9" y1="332.4" x2="370.9" y2="336.4" stroke="#12b04c" stroke-width="1.6" />
<line x1="380.1" y1="331.4" x2="380.1" y2="335.4" stroke="#12b04c" stroke-width="1.6" />
<line x1="389.3" y1="331.4" x2="389.3" y2="335.4" stroke="#12b04c" stroke-width="1.6" />
<line x1="398.5" y1="330.1" x2="398.5" y2="334.1" stroke="#12b04c" stroke-width="1.6" />
<line x1="407.7" y1="330.1" x2="407.7" y2="334.1" stroke="#12b04c" stroke-width="1.6" />
<polyline points="228.3,330.8 232.9,330.8 242.1,329.6 251.3,329.6 260.5,331.1 269.7,331.9 278.9,333.6 288.1,332.0 297.3,329.5 306.5,324.0 315.7,320.4 324.9,320.8 334.1,326.2 343.3,331.6 352.5,335.3 361.7,335.4 370.9,334.4 380.1,333.4 389.3,333.4 398.5,332.1 407.7,332.1 412.3,331.1" fill="none" stroke="#12b04c" stroke-width="2.4" stroke-linejoin="round" />
<circle cx="232.9" cy="330.8" r="3.4" fill="#12b04c"/>
<circle cx="242.1" cy="329.6" r="3.4" fill="#12b04c"/>
<circle cx="251.3" cy="329.6" r="3.4" fill="#12b04c"/>
<circle cx="260.5" cy="331.1" r="3.4" fill="#12b04c"/>
<circle cx="269.7" cy="331.9" r="3.4" fill="#12b04c"/>
<circle cx="278.9" cy="333.6" r="3.4" fill="#12b04c"/>
<circle cx="288.1" cy="332.0" r="3.4" fill="#12b04c"/>
<circle cx="297.3" cy="329.5" r="3.4" fill="#12b04c"/>
<circle cx="306.5" cy="324.0" r="3.4" fill="#12b04c"/>
<circle cx="315.7" cy="320.4" r="3.4" fill="#12b04c"/>
<circle cx="324.9" cy="320.8" r="3.4" fill="#12b04c"/>
<circle cx="334.1" cy="326.2" r="3.4" fill="#12b04c"/>
<circle cx="343.3" cy="331.6" r="3.4" fill="#12b04c"/>
<circle cx="352.5" cy="335.3" r="3.4" fill="#12b04c"/>
<circle cx="361.7" cy="335.4" r="3.4" fill="#12b04c"/>
<circle cx="370.9" cy="334.4" r="3.4" fill="#12b04c"/>
<circle cx="380.1" cy="333.4" r="3.4" fill="#12b04c"/>
<circle cx="389.3" cy="333.4" r="3.4" fill="#12b04c"/>
<circle cx="398.5" cy="332.1" r="3.4" fill="#12b04c"/>
<circle cx="407.7" cy="332.1" r="3.4" fill="#12b04c"/>
<line x1="232.9" y1="320.3" x2="232.9" y2="332.3" stroke="#0e6cc8" stroke-width="1.6" />
<line x1="242.1" y1="321.2" x2="242.1" y2="329.2" stroke="#0e6cc8" stroke-width="1.6" />
<line x1="251.3" y1="318.6" x2="251.3" y2="330.6" stroke="#0e6cc8" stroke-width="1.6" />
<line x1="260.5" y1="324.4" x2="260.5" y2="330.4" stroke="#0e6cc8" stroke-width="1.6" />
<line x1="269.7" y1="322.3" x2="269.7" y2="336.3" stroke="#0e6cc8" stroke-width="1.6" />
<line x1="278.9" y1="314.4" x2="278.9" y2="334.4" stroke="#0e6cc8" stroke-width="1.6" />
<line x1="288.1" y1="310.5" x2="288.1" y2="316.5" stroke="#0e6cc8" stroke-width="1.6" />
<line x1="297.3" y1="295.6" x2="297.3" y2="303.6" stroke="#0e6cc8" stroke-width="1.6" />
<line x1="306.5" y1="266.0" x2="306.5" y2="286.0" stroke="#0e6cc8" stroke-width="1.6" />
<line x1="315.7" y1="249.3" x2="315.7" y2="267.3" stroke="#0e6cc8" stroke-width="1.6" />
<line x1="324.9" y1="240.2" x2="324.9" y2="266.2" stroke="#0e6cc8" stroke-width="1.6" />
<line x1="334.1" y1="267.8" x2="334.1" y2="273.8" stroke="#0e6cc8" stroke-width="1.6" />
<line x1="343.3" y1="294.9" x2="343.3" y2="302.9" stroke="#0e6cc8" stroke-width="1.6" />
<line x1="352.5" y1="322.3" x2="352.5" y2="330.3" stroke="#0e6cc8" stroke-width="1.6" />
<line x1="361.7" y1="325.5" x2="361.7" y2="345.5" stroke="#0e6cc8" stroke-width="1.6" />
<line x1="370.9" y1="332.9" x2="370.9" y2="340.9" stroke="#0e6cc8" stroke-width="1.6" />
<line x1="380.1" y1="334.4" x2="380.1" y2="340.4" stroke="#0e6cc8" stroke-width="1.6" />
<line x1="389.3" y1="335.4" x2="389.3" y2="341.4" stroke="#0e6cc8" stroke-width="1.6" />
<line x1="398.5" y1="330.9" x2="398.5" y2="346.9" stroke="#0e6cc8" stroke-width="1.6" />
<line x1="407.7" y1="334.4" x2="407.7" y2="342.4" stroke="#0e6cc8" stroke-width="1.6" />
<polyline points="228.3,326.3 232.9,326.3 242.1,325.2 251.3,324.6 260.5,327.4 269.7,329.3 278.9,324.4 288.1,313.5 297.3,299.6 306.5,276.0 315.7,258.3 324.9,253.2 334.1,270.8 343.3,298.9 352.5,326.3 361.7,335.5 370.9,336.9 380.1,337.4 389.3,338.4 398.5,338.9 407.7,338.4 412.3,333.4" fill="none" stroke="#0e6cc8" stroke-width="2.4" stroke-linejoin="round" />
<circle cx="232.9" cy="326.3" r="3.4" fill="#0e6cc8"/>
<circle cx="242.1" cy="325.2" r="3.4" fill="#0e6cc8"/>
<circle cx="251.3" cy="324.6" r="3.4" fill="#0e6cc8"/>
<circle cx="260.5" cy="327.4" r="3.4" fill="#0e6cc8"/>
<circle cx="269.7" cy="329.3" r="3.4" fill="#0e6cc8"/>
<circle cx="278.9" cy="324.4" r="3.4" fill="#0e6cc8"/>
<circle cx="288.1" cy="313.5" r="3.4" fill="#0e6cc8"/>
<circle cx="297.3" cy="299.6" r="3.4" fill="#0e6cc8"/>
<circle cx="306.5" cy="276.0" r="3.4" fill="#0e6cc8"/>
<circle cx="315.7" cy="258.3" r="3.4" fill="#0e6cc8"/>
<circle cx="324.9" cy="253.2" r="3.4" fill="#0e6cc8"/>
<circle cx="334.1" cy="270.8" r="3.4" fill="#0e6cc8"/>
<circle cx="343.3" cy="298.9" r="3.4" fill="#0e6cc8"/>
<circle cx="352.5" cy="326.3" r="3.4" fill="#0e6cc8"/>
<circle cx="361.7" cy="335.5" r="3.4" fill="#0e6cc8"/>
<circle cx="370.9" cy="336.9" r="3.4" fill="#0e6cc8"/>
<circle cx="380.1" cy="337.4" r="3.4" fill="#0e6cc8"/>
<circle cx="389.3" cy="338.4" r="3.4" fill="#0e6cc8"/>
<circle cx="398.5" cy="338.9" r="3.4" fill="#0e6cc8"/>
<circle cx="407.7" cy="338.4" r="3.4" fill="#0e6cc8"/>
<line x1="466.5" y1="250.7" x2="466.5" y2="363.4" stroke="#555555" stroke-width="1.1" />
<line x1="466.5" y1="363.4" x2="670" y2="363.4" stroke="#2e2e2e" stroke-width="1.2" />
<line x1="466.5" y1="257.5" x2="470.0" y2="257.5" stroke="#555555" stroke-width="1" />
<line x1="466.5" y1="292.7" x2="470.0" y2="292.7" stroke="#555555" stroke-width="1" />
<line x1="466.5" y1="327.9" x2="470.0" y2="327.9" stroke="#555555" stroke-width="1" />
<text x="464" y="262.6" font-size="11.5" fill="#1a1a1a" stroke="#1a1a1a" stroke-width="0.28" text-anchor="end" font-weight="normal" >0.1</text>
<text x="459.5" y="332.7" font-size="11.5" fill="#1a1a1a" stroke="#1a1a1a" stroke-width="0.28" text-anchor="end" font-weight="normal" >0</text>
<line x1="519.9" y1="363.4" x2="519.9" y2="360" stroke="#555555" stroke-width="1" />
<line x1="573.7" y1="363.4" x2="573.7" y2="360" stroke="#555555" stroke-width="1" />
<line x1="627.3" y1="363.4" x2="627.3" y2="360" stroke="#555555" stroke-width="1" />
<text x="473.3" y="378.8" font-size="11.5" fill="#1a1a1a" stroke="#1a1a1a" stroke-width="0.28" text-anchor="middle" font-weight="normal" >10</text>
<text x="516.7" y="378.8" font-size="11.5" fill="#1a1a1a" stroke="#1a1a1a" stroke-width="0.28" text-anchor="middle" font-weight="normal" >60</text>
<text x="570.2" y="378.8" font-size="11.5" fill="#1a1a1a" stroke="#1a1a1a" stroke-width="0.28" text-anchor="middle" font-weight="normal" >110</text>
<text x="620.5" y="378.8" font-size="11.5" fill="#1a1a1a" stroke="#1a1a1a" stroke-width="0.28" text-anchor="middle" font-weight="normal" >160</text>
<text x="561.3" y="392.8" font-size="13" fill="#1a1a1a" stroke="#1a1a1a" stroke-width="0.28" text-anchor="middle" font-weight="normal" >Trials</text>
<text transform="translate(442.2,304) rotate(-90)" font-size="13.3" fill="#1a1a1a" text-anchor="middle">Correlation coeff.</text>
<path d="M471.6,304.6 L482.3,302.0 L493.1,306.0 L503.8,307.5 L514.6,306.0 L525.3,306.0 L536.0,308.2 L546.8,303.1 L557.5,296.6 L568.3,305.1 L579.0,305.9 L589.7,315.2 L600.5,324.4 L611.2,319.9 L622.0,321.0 L632.7,315.2 L643.4,307.6 L654.2,297.6 L664.9,312.7 L664.9,336.1 L654.2,327.2 L643.4,329.4 L632.7,333.6 L622.0,339.0 L611.2,337.3 L600.5,340.3 L589.7,333.6 L579.0,328.6 L568.3,326.9 L557.5,317.4 L546.8,325.0 L536.0,329.4 L525.3,322.8 L514.6,325.0 L503.8,328.7 L493.1,326.5 L482.3,318.5 L471.6,323.6 Z" fill="#97a9d1"/>
<polyline points="471.6,314.1 482.3,309.7 493.1,316.0 503.8,317.7 514.6,315.5 525.3,314.1 536.0,318.9 546.8,314.1 557.5,307.2 568.3,315.0 579.0,317.7 589.7,324.4 600.5,332.0 611.2,328.3 622.0,330.3 632.7,325.2 643.4,319.4 654.2,311.8 664.9,324.9" fill="none" stroke="#0a6ec8" stroke-width="2.4" stroke-linejoin="round" />
<line x1="497.5" y1="272" x2="657" y2="272" stroke="#c4c4c4" stroke-width="2" />
<line x1="508.8" y1="229" x2="508.8" y2="248" stroke="#222" stroke-width="1.3" stroke-dasharray="3,2"/>
<line x1="508.2" y1="270.5" x2="508.2" y2="273" stroke="#222" stroke-width="1.3" />
<line x1="508" y1="249.3" x2="508" y2="266" stroke="#14aee8" stroke-width="2" />
<path d="M505.2,265.3 L510.8,265.3 L508,270.8 Z" fill="#14aee8"/>
<line x1="523.8" y1="249.3" x2="523.8" y2="266" stroke="#14aee8" stroke-width="2" />
<path d="M521.0,265.3 L526.5999999999999,265.3 L523.8,270.8 Z" fill="#14aee8"/>
<line x1="539.8" y1="249.3" x2="539.8" y2="266" stroke="#14aee8" stroke-width="2" />
<path d="M537.0,265.3 L542.5999999999999,265.3 L539.8,270.8 Z" fill="#14aee8"/>
<line x1="556.8" y1="249.3" x2="556.8" y2="266" stroke="#14aee8" stroke-width="2" />
<path d="M554.0,265.3 L559.5999999999999,265.3 L556.8,270.8 Z" fill="#14aee8"/>
<line x1="574.6" y1="249.3" x2="574.6" y2="266" stroke="#14aee8" stroke-width="2" />
<path d="M571.8000000000001,265.3 L577.4,265.3 L574.6,270.8 Z" fill="#14aee8"/>
<rect x="618" y="257.6" width="14.4" height="14.1" fill="#4472c4"/>
<line x1="625.2" y1="229.5" x2="625.2" y2="257" stroke="#222" stroke-width="1.3" stroke-dasharray="3,2"/>
<line x1="515" y1="236.3" x2="619" y2="236.3" stroke="#111" stroke-width="1.2" />
<path d="M508.8,236.3 L517.2,232.6 L517.2,240 Z" fill="#000"/>
<path d="M625.2,236.3 L617.2,232.6 L617.2,240 Z" fill="#000"/>
<text x="570" y="232.2" font-size="12" fill="#222" stroke="#222" stroke-width="0.28" text-anchor="middle" font-weight="normal" >Delay</text>
<text x="523.6" y="285.8" font-size="12" fill="#222" stroke="#222" stroke-width="0.28" text-anchor="middle" font-weight="normal" >Laser onset</text>
<text x="624.2" y="285.5" font-size="12" fill="#222" stroke="#222" stroke-width="0.28" text-anchor="middle" font-weight="normal" >Cue onset</text>
</svg></body></html>
